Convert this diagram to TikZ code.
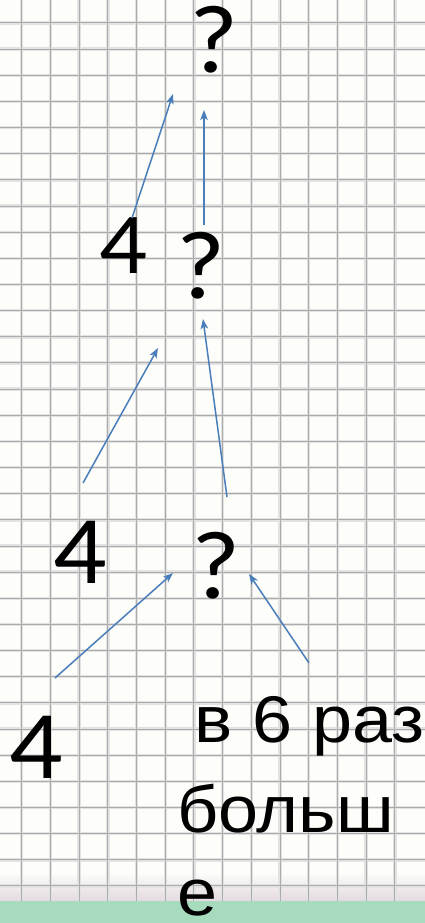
\documentclass[tikz,border=0pt]{standalone}
\usepackage{fontspec}
\setmainfont{Liberation Sans}
\newfontfamily\calfnt{Carlito}
\usetikzlibrary{arrows.meta}
\definecolor{arrowblue}{RGB}{74,126,187}
\definecolor{gridgray}{RGB}{172,172,172}
\definecolor{gridsoft}{RGB}{226,226,226}
\definecolor{paper}{RGB}{253,253,250}
\definecolor{mint}{RGB}{166,219,190}
\definecolor{pinkgray}{RGB}{228,218,224}
\newcommand{\hstretch}[1]{\scalebox{1.09}[1]{#1}}
\tikzset{
  qmark/.style={inner sep=0pt, anchor=base, font=\calfnt\fontsize{97}{97}\selectfont},
  num/.style={inner sep=0pt, anchor=base, font=\calfnt\fontsize{97}{97}\selectfont},
  smallnum/.style={inner sep=0pt, anchor=base, font=\calfnt\fontsize{87}{87}\selectfont},
  words/.style={inner sep=0pt, anchor=base west, font=\fontsize{66}{66}\selectfont},
  arr/.style={draw=arrowblue, line width=1.5pt, -{Stealth[length=10pt,width=7.5pt,inset=2.5pt]}},
  gridsoftline/.style={draw=gridsoft, line width=3.4pt},
  gridline/.style={draw=gridgray, line width=1pt}
}
\begin{document}
\begin{tikzpicture}[x=1pt,y=-1pt]
\useasboundingbox (0,0) rectangle (425,923);
\clip (0,0) rectangle (425,923);
% paper
\fill[paper] (0,0) rectangle (425,923);
\shade[top color=paper, bottom color=pinkgray] (0,872) rectangle (425,901);
% grid
\foreach \k in {0,...,13} {
  \draw[gridsoftline] ({21.7+28.7*\k},0) -- ({21.7+28.7*\k},901);
}
\foreach \k in {0,...,33} {
  \draw[gridsoftline] (0,{23+26.15*\k}) -- (425,{23+26.15*\k});
}
\foreach \k in {0,...,13} {
  \draw[gridline] ({21.7+28.7*\k},0) -- ({21.7+28.7*\k},901);
}
\foreach \k in {0,...,33} {
  \draw[gridline] (0,{23+26.15*\k}) -- (425,{23+26.15*\k});
}
% green strip
\fill[mint] (0,901) rectangle (425,923);
% texts
\node[qmark] (q1) at (214,73) {\hstretch{?}};
\node[smallnum] (n2) at (123.5,273) {\hstretch{4}};
\node[qmark] (q2) at (200.5,298) {\hstretch{?}};
\node[num] (n3) at (80.5,583) {\hstretch{4}};
\node[qmark] (q3) at (215.5,598) {\hstretch{?}};
\node[num] (n4) at (36,778) {\hstretch{4}};
\node[words] (w1) at (194,742) {\hstretch{в 6 раз}};
\node[words] (w2) at (177,832) {\hstretch{больш}};
\node[words] (w3) at (177,915) {\hstretch{е}};
% arrow endpoints
\coordinate (a1s) at (132,218); \coordinate (a1e) at (173,94);
\coordinate (a2s) at (204,225); \coordinate (a2e) at (204,110);
\coordinate (a3s) at (83,483);  \coordinate (a3e) at (158,348);
\coordinate (a4s) at (227,497); \coordinate (a4e) at (203,319);
\coordinate (a5s) at (55,678);  \coordinate (a5e) at (173,573);
\coordinate (a6s) at (309,663); \coordinate (a6e) at (249,574);
\draw[arr] (a1s) -- (a1e);
\draw[arr] (a2s) -- (a2e);
\draw[arr] (a3s) -- (a3e);
\draw[arr] (a4s) -- (a4e);
\draw[arr] (a5s) -- (a5e);
\draw[arr] (a6s) -- (a6e);
\end{tikzpicture}
\end{document}
